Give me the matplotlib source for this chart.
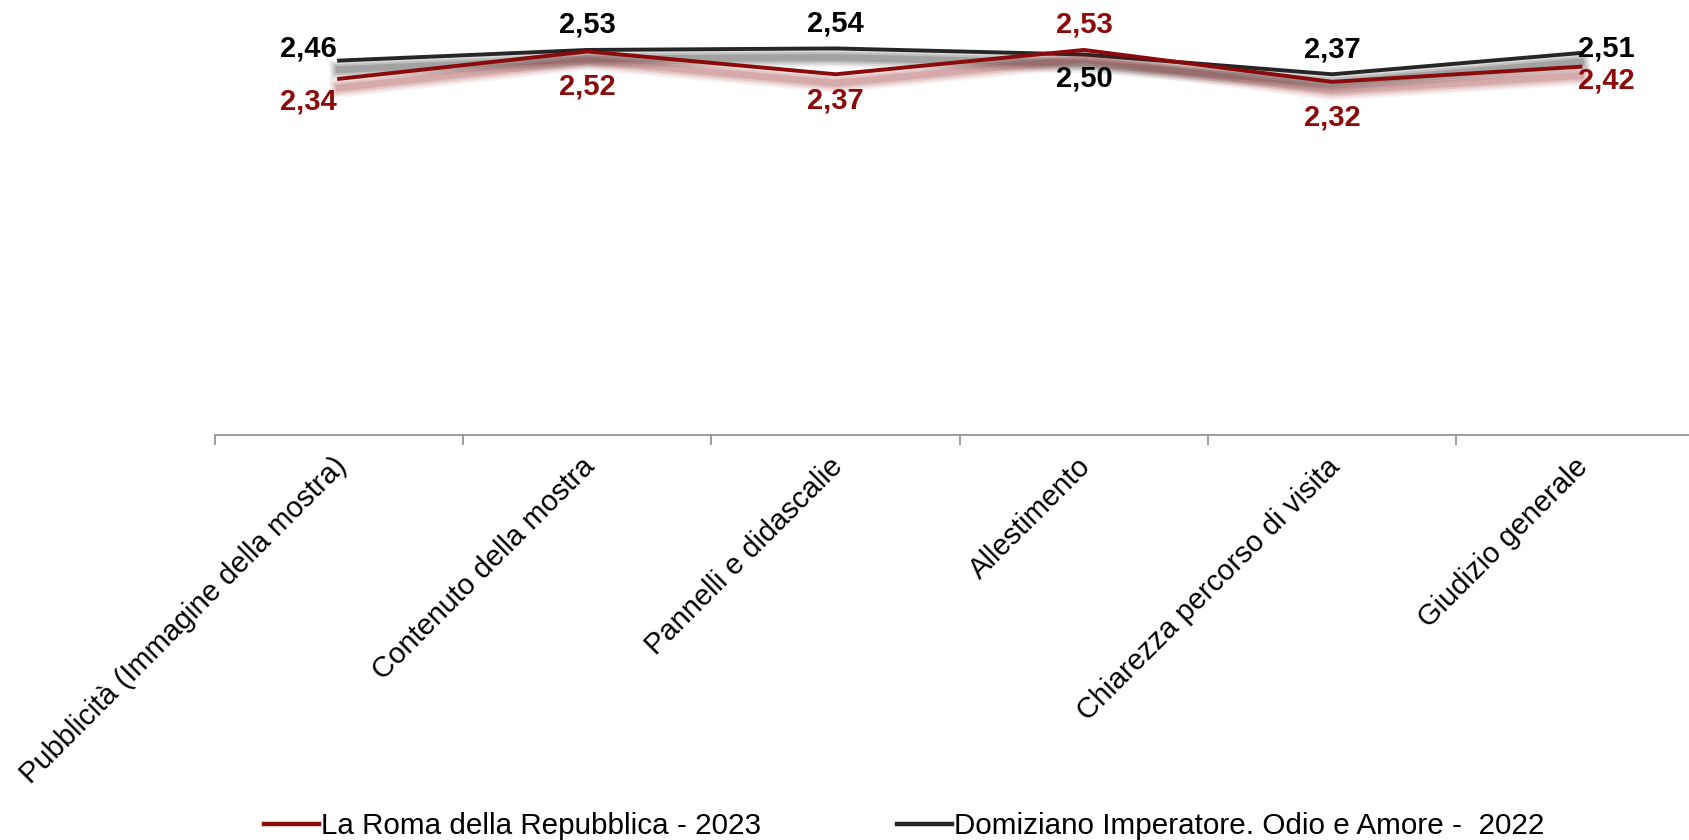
#!/usr/bin/env python3

import matplotlib
matplotlib.use('Agg')
import matplotlib.pyplot as plt
import matplotlib.patheffects as pe
import matplotlib.transforms as mtransforms
from matplotlib.lines import Line2D
import numpy as np

categories = ['Pubblicità (Immagine della mostra)', 'Contenuto della mostra',
              'Pannelli e didascalie', 'Allestimento',
              'Chiarezza percorso di visita', 'Giudizio generale']
roma_2023 = [2.34, 2.52, 2.37, 2.53, 2.32, 2.42]
domiziano_2022 = [2.46, 2.53, 2.54, 2.50, 2.37, 2.51]
label_roma = 'La Roma della Repubblica - 2023'
label_domiziano = 'Domiziano Imperatore. Odio e Amore -  2022'

RED = '#8b0a0a'
BLACK = '#262626'

plt.rcParams['font.family'] = ['Liberation Sans', 'DejaVu Sans']


def shadow(color, strength):
    # soft blurred shadow under the line
    effects = []
    for lw, a in [(14, 0.04), (11, 0.06), (8, 0.08), (5, 0.10)]:
        effects.append(pe.SimpleLineShadow(offset=(0, -6.5), shadow_color=color,
                                           alpha=a * strength, linewidth=lw))
    effects.append(pe.Normal())
    return effects


def fmt(v):
    return f'{v:.2f}'.replace('.', ',')


def main():
    fig = plt.figure(figsize=(16.9, 8.4), dpi=100)
    ax = fig.add_axes([0.1272, 0.4827, 0.8814, 0.5429])
    x = np.arange(len(categories))

    ax.plot(x, domiziano_2022, color=BLACK, lw=2.8,
            path_effects=shadow('#000000', 1.5), zorder=3)
    ax.plot(x, roma_2023, color=RED, lw=2.8,
            path_effects=shadow(RED, 1.4), zorder=4)

    # label placement (dx, dy in points, ha)
    place_black = [(-2, 9, 'right'), (0, 18, 'center'), (0, 18, 'center'),
                   (0, -17, 'center'), (0, 18, 'center'), (-2, 3, 'left')]
    place_red = [(-2, -16, 'right'), (0, -25, 'center'), (0, -19, 'center'),
                 (0, 18, 'center'), (0, -26, 'center'), (-2, -10, 'left')]
    for xi, v, (dx, dy, ha) in zip(x, domiziano_2022, place_black):
        ax.annotate(fmt(v), (xi, v), xytext=(dx, dy), textcoords='offset points',
                    ha=ha, va='center', fontsize=21, fontweight='bold',
                    color='black', zorder=5)
    for xi, v, (dx, dy, ha) in zip(x, roma_2023, place_red):
        ax.annotate(fmt(v), (xi, v), xytext=(dx, dy), textcoords='offset points',
                    ha=ha, va='center', fontsize=21, fontweight='bold',
                    color=RED, zorder=5)

    ax.set_xlim(-0.5, len(categories) - 0.5)
    ax.set_ylim(0, 3)
    ax.set_yticks([])
    for s in ['top', 'right', 'left']:
        ax.spines[s].set_visible(False)
    ax.spines['bottom'].set_color('#8c8c8c')
    ax.spines['bottom'].set_linewidth(1.2)

    ax.set_xticks(x)
    ax.set_xticklabels(categories, rotation=45, ha='right', va='center',
                       rotation_mode='anchor', fontsize=21)
    ax.tick_params(axis='x', which='major', length=0, pad=30)
    shift = mtransforms.ScaledTranslation(0.03, 0.14, fig.dpi_scale_trans)
    for lab in ax.get_xticklabels():
        lab.set_transform(lab.get_transform() + shift)
    ax.set_xticks(np.arange(-0.5, len(categories), 1.0), minor=True)
    ax.tick_params(axis='x', which='minor', length=7, width=1.2, color='#8c8c8c')

    handles = [Line2D([], [], color=RED, lw=3.2), Line2D([], [], color=BLACK, lw=3.2)]
    fig.legend(handles, [label_roma, label_domiziano], loc='center', ncol=2,
               bbox_to_anchor=(0.535, 0.0167), frameon=False, fontsize=21.3,
               handlelength=1.85, handletextpad=0.08, columnspacing=4.6)

    fig.savefig('out.png', dpi=100)


if __name__ == '__main__':
    main()
